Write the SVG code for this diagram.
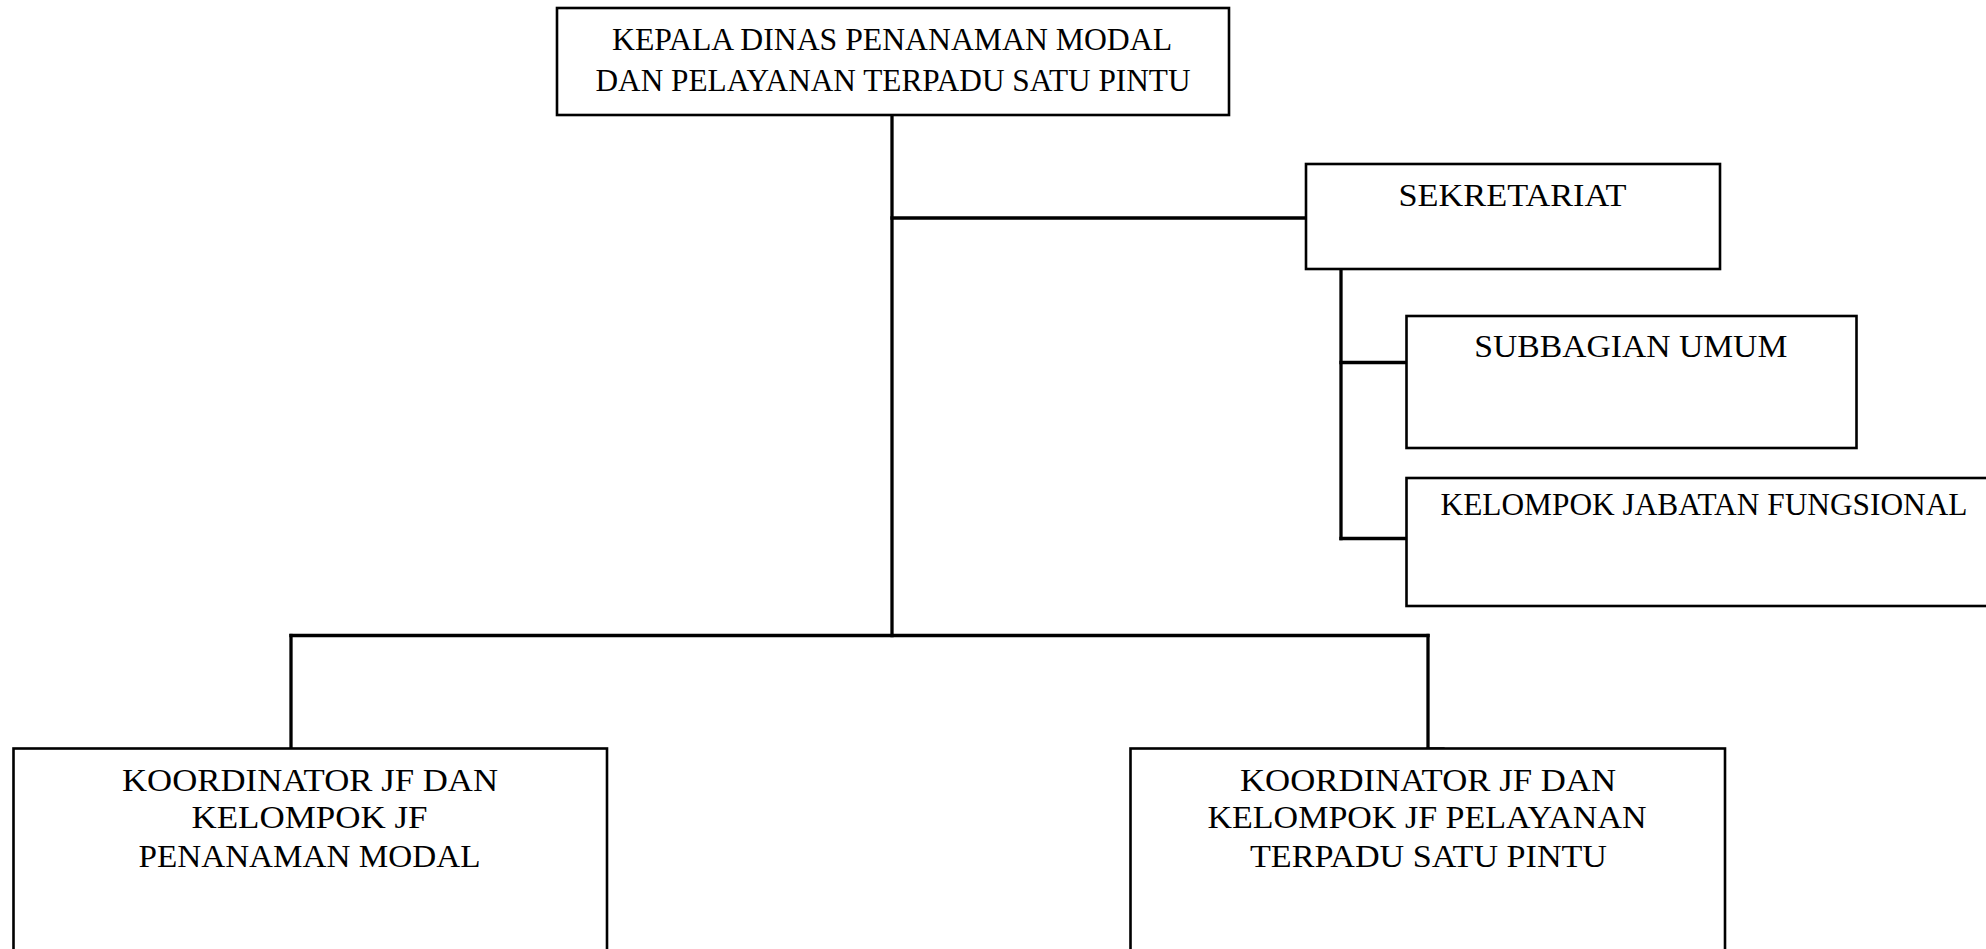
<svg xmlns="http://www.w3.org/2000/svg" width="1986" height="949" viewBox="0 0 1986 949">
  <style>
    .box { fill: #ffffff; stroke: #000000; stroke-width: 2.6; }
    .link { fill: none; stroke: #000000; stroke-width: 3.3; stroke-linecap: square; }
    .label { font-family: "Liberation Serif", "Times New Roman", serif; font-size: 32px; fill: #000000; }
    .mid { text-anchor: middle; }
  </style>
  <rect width="1986" height="949" fill="#ffffff"/>

  <!-- connectors -->
  <g id="connectors">
    <line class="link" x1="892" y1="116" x2="892" y2="635.5"/>
    <line class="link" x1="892" y1="218" x2="1305" y2="218"/>
    <line class="link" x1="291" y1="635.5" x2="1428" y2="635.5"/>
    <line class="link" x1="291" y1="635.5" x2="291" y2="748"/>
    <line class="link" x1="1428" y1="635.5" x2="1428" y2="748"/>
    <line class="link" x1="1428" y1="749" x2="1443" y2="749"/>
    <line class="link" x1="1341" y1="269" x2="1341" y2="538.5"/>
    <line class="link" x1="1341" y1="362.5" x2="1405" y2="362.5"/>
    <line class="link" x1="1341" y1="538.5" x2="1405" y2="538.5"/>
  </g>

  <!-- head of office -->
  <g id="kepala">
    <rect class="box" x="557" y="8" width="672" height="107"/>
    <text class="label mid" x="892" y="49.5" textLength="560" lengthAdjust="spacingAndGlyphs">KEPALA DINAS PENANAMAN MODAL</text>
    <text class="label mid" x="893" y="90.5" textLength="595" lengthAdjust="spacingAndGlyphs">DAN PELAYANAN TERPADU SATU PINTU</text>
  </g>

  <!-- secretariat -->
  <g id="sekretariat">
    <rect class="box" x="1306" y="164" width="414" height="105"/>
    <text class="label mid" x="1512.5" y="206" textLength="228" lengthAdjust="spacingAndGlyphs">SEKRETARIAT</text>
  </g>

  <g id="subbagian-umum">
    <rect class="box" x="1406.5" y="316" width="450" height="132"/>
    <text class="label mid" x="1630.8" y="357" textLength="313" lengthAdjust="spacingAndGlyphs">SUBBAGIAN UMUM</text>
  </g>

  <g id="kelompok-jabatan-fungsional">
    <rect class="box" x="1406.5" y="478" width="582" height="128"/>
    <text class="label" x="1440.5" y="515" textLength="527" lengthAdjust="spacingAndGlyphs">KELOMPOK JABATAN FUNGSIONAL</text>
  </g>

  <!-- functional coordinators -->
  <g id="koordinator-penanaman-modal">
    <rect class="box" x="13.5" y="748.5" width="593.5" height="220"/>
    <text class="label mid" x="310" y="791" textLength="376" lengthAdjust="spacingAndGlyphs">KOORDINATOR JF DAN</text>
    <text class="label mid" x="309.5" y="828" textLength="236" lengthAdjust="spacingAndGlyphs">KELOMPOK JF</text>
    <text class="label mid" x="309.5" y="867" textLength="342" lengthAdjust="spacingAndGlyphs">PENANAMAN MODAL</text>
  </g>

  <g id="koordinator-ptsp">
    <rect class="box" x="1130.5" y="748.5" width="594.5" height="220"/>
    <text class="label mid" x="1428" y="791" textLength="376" lengthAdjust="spacingAndGlyphs">KOORDINATOR JF DAN</text>
    <text class="label mid" x="1427" y="828" textLength="439" lengthAdjust="spacingAndGlyphs">KELOMPOK JF PELAYANAN</text>
    <text class="label mid" x="1428.5" y="867" textLength="357" lengthAdjust="spacingAndGlyphs">TERPADU SATU PINTU</text>
  </g>
</svg>
